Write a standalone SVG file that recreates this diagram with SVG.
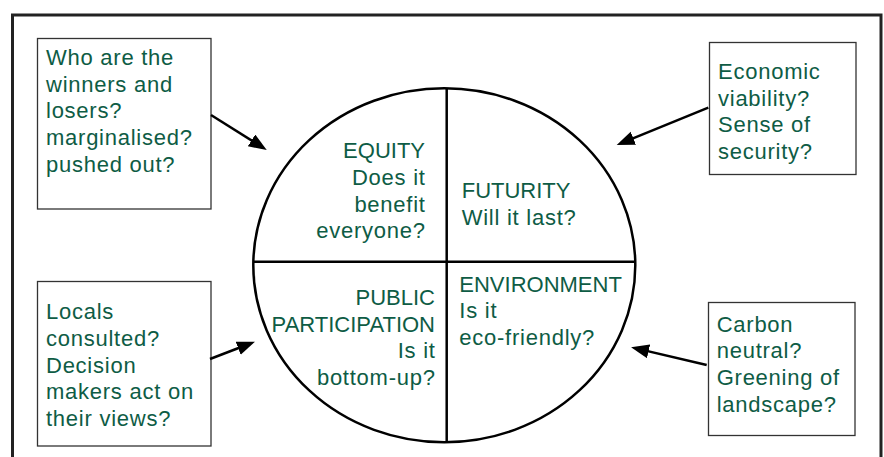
<svg xmlns="http://www.w3.org/2000/svg" width="884" height="457" viewBox="0 0 884 457">
<style>
.t{font-family:"Liberation Sans",Arial,Helvetica,sans-serif;font-size:22px;fill:#0e5c45;letter-spacing:0.75px}
.c{letter-spacing:0}
.e{text-anchor:end}
.box{fill:#fff;stroke:#333;stroke-width:1.3}
.ln{stroke:#000;stroke-width:2.5;fill:none}
.ar{stroke:#000;stroke-width:2.5;fill:none;marker-end:url(#ah)}
</style>
<defs>
<marker id="ah" markerUnits="userSpaceOnUse" markerWidth="20" markerHeight="16" viewBox="0 0 20 16" refX="13" refY="7" orient="auto">
<path d="M0,0 L18,7 L0,14 z" fill="#000"/>
</marker>
</defs>
<rect x="12.5" y="15" width="868.5" height="470" fill="#fff" stroke="#222" stroke-width="3"/>

<g id="circle">
<ellipse cx="444.3" cy="265.3" rx="191" ry="177" class="ln"/>
<line x1="253.5" y1="261.7" x2="635.3" y2="261.7" class="ln"/>
<line x1="446.7" y1="88.3" x2="446.7" y2="442.3" class="ln"/>
</g>

<g id="equity">
<text class="t c e" x="425" y="158.3">EQUITY</text>
<text class="t e" x="425.7" y="185">Does it</text>
<text class="t e" x="425.7" y="211.7">benefit</text>
<text class="t e" x="425.7" y="238.3">everyone?</text>
</g>
<g id="futurity">
<text class="t c" x="461.7" y="198.3">FUTURITY</text>
<text class="t" x="461.7" y="225">Will it last?</text>
</g>
<g id="participation">
<text class="t c e" x="435" y="305">PUBLIC</text>
<text class="t c e" x="435" y="331.7">PARTICIPATION</text>
<text class="t e" x="435.7" y="358.3">Is it</text>
<text class="t e" x="435.7" y="385">bottom-up?</text>
</g>
<g id="environment">
<text class="t c" x="459.3" y="291.7">ENVIRONMENT</text>
<text class="t" x="459.3" y="318.3">Is it</text>
<text class="t" x="459.3" y="345">eco-friendly?</text>
</g>

<g id="box-winners">
<rect class="box" x="37.5" y="38.5" width="173.5" height="170.5"/>
<text class="t" x="46" y="65">Who are the</text>
<text class="t" x="46" y="91.7">winners and</text>
<text class="t" x="46" y="118.3">losers?</text>
<text class="t" x="46" y="145">marginalised?</text>
<text class="t" x="46" y="171.7">pushed out?</text>
</g>
<g id="box-economic">
<rect class="box" x="709.5" y="42.5" width="146.5" height="132"/>
<text class="t" x="718" y="79">Economic</text>
<text class="t" x="718" y="105.7">viability?</text>
<text class="t" x="718" y="132.3">Sense of</text>
<text class="t" x="718" y="159">security?</text>
</g>
<g id="box-locals">
<rect class="box" x="37.5" y="281.5" width="173.5" height="164.5"/>
<text class="t" x="46" y="319.3">Locals</text>
<text class="t" x="46" y="346">consulted?</text>
<text class="t" x="46" y="372.7">Decision</text>
<text class="t" x="46" y="399.3">makers act on</text>
<text class="t" x="46" y="426">their views?</text>
</g>
<g id="box-carbon">
<rect class="box" x="708.5" y="302.5" width="146.5" height="133"/>
<text class="t" x="716.7" y="331.7">Carbon</text>
<text class="t" x="716.7" y="358.3">neutral?</text>
<text class="t" x="716.7" y="385">Greening of</text>
<text class="t" x="716.7" y="411.7">landscape?</text>
</g>

<g id="connectors">
<line class="ar" x1="211" y1="115" x2="262.5" y2="147.3"/>
<line class="ar" x1="708.3" y1="107.7" x2="621.3" y2="143.1"/>
<line class="ar" x1="210" y1="359" x2="250.3" y2="343.5"/>
<line class="ar" x1="706.7" y1="365" x2="635.9" y2="348.4"/>
</g>
</svg>
